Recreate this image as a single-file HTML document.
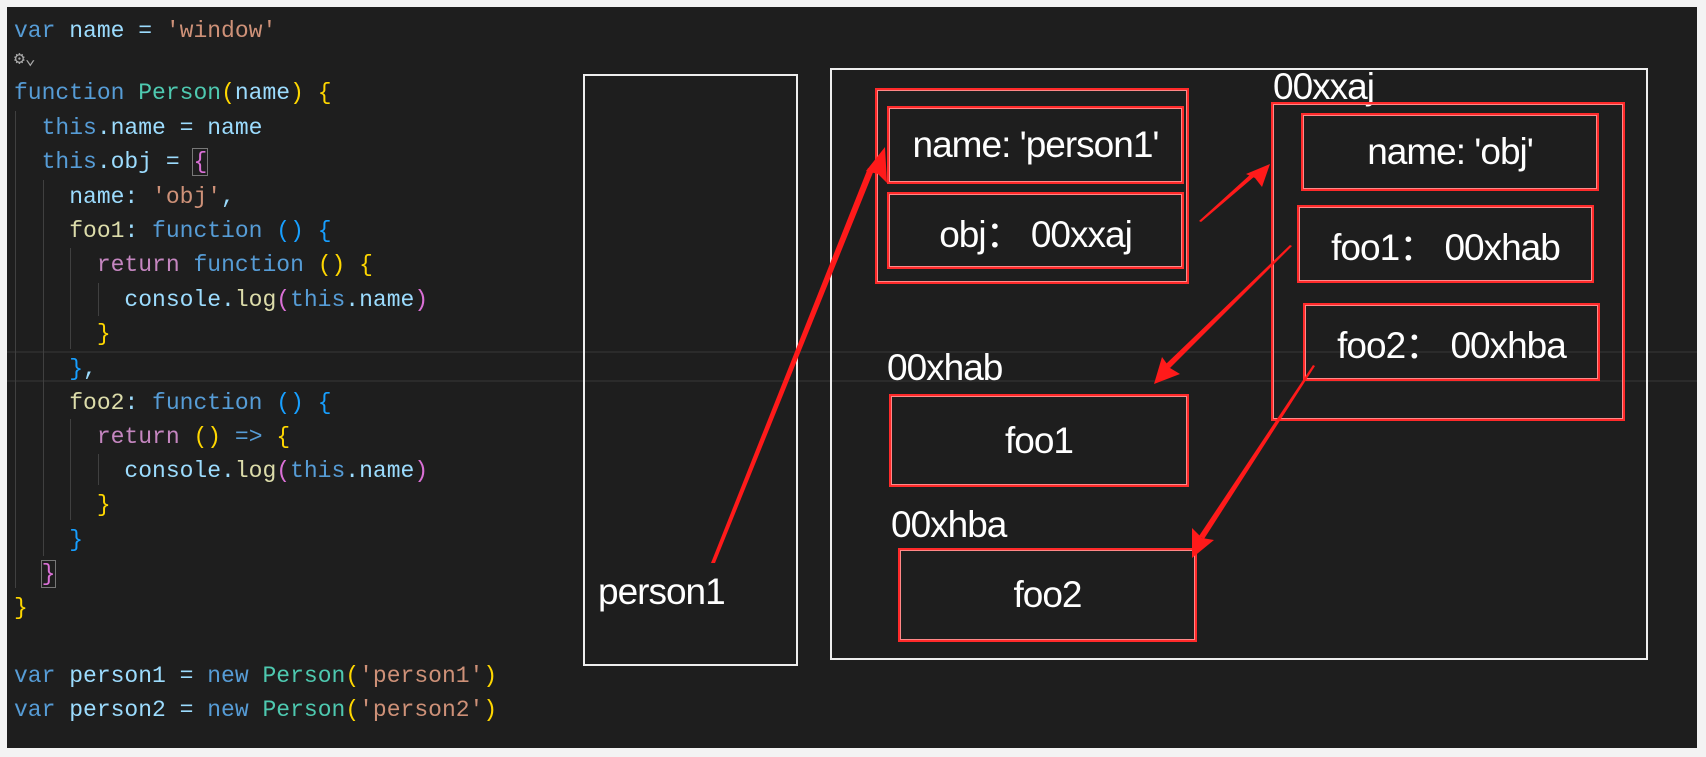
<!DOCTYPE html>
<html><head><meta charset="utf-8"><style>
body{margin:0;width:1706px;height:757px;background:#f3f3f3;position:relative;overflow:hidden}
#bg{position:absolute;left:7px;top:7px;width:1690px;height:741px;background:#1e1e1e}
.l{position:absolute;left:14px;font:23px/1 "Liberation Mono",monospace;color:#9cdcfe;white-space:pre}
.k{color:#569cd6}.s{color:#ce9178}.t{color:#4ec9b0}.y{color:#ffd700}.p{color:#da70d6}.b{color:#179fff}.r{color:#c586c0}.f{color:#dcdcaa}
.g{position:absolute;width:1px;background:#404040}
.w{position:absolute;border:2px solid #eee;box-sizing:border-box}
.rb{position:absolute;border:2px solid #ff2a2a;box-shadow:inset 0 0 0 1px #f88;box-sizing:border-box;display:flex;align-items:center;justify-content:center;color:#fff;font:37px "Liberation Sans",sans-serif;white-space:nowrap;letter-spacing:-1px}
.lab{position:absolute;color:#fff;font:37px/1 "Liberation Sans",sans-serif;letter-spacing:-1px}
</style></head><body>
<div id="bg"></div>
<div style="position:absolute;left:7px;top:351px;width:1690px;height:31px;border-top:2px solid #2b2b2b;border-bottom:2px solid #2b2b2b;box-sizing:border-box"></div>
<div class="g" style="left:15px;top:111px;height:477px"></div>
<div class="g" style="left:43px;top:180px;height:376px"></div>
<div class="g" style="left:70px;top:248px;height:101px"></div>
<div class="g" style="left:70px;top:419px;height:101px"></div>
<div class="g" style="left:98px;top:283px;height:33px"></div>
<div class="g" style="left:98px;top:454px;height:31px"></div>
<div class="l" style="top:20px"><span class="k">var</span> name = <span class="s">'window'</span></div>
<div class="l" style="top:51px;color:#aaa;font-size:18px">⚙⌄</div>
<div class="l" style="top:82px"><span class="k">function</span> <span class="t">Person</span><span class="y">(</span>name<span class="y">)</span> <span class="y">{</span></div>
<div class="l" style="top:117px">  <span class="k">this</span>.name = name</div>
<div class="l" style="top:151px">  <span class="k">this</span>.obj = <span class="p" style="outline:1px solid #777">{</span></div>
<div class="l" style="top:186px">    name: <span class="s">'obj'</span>,</div>
<div class="l" style="top:220px">    <span class="f">foo1</span>: <span class="k">function</span> <span class="b">()</span> <span class="b">{</span></div>
<div class="l" style="top:254px">      <span class="r">return</span> <span class="k">function</span> <span class="y">()</span> <span class="y">{</span></div>
<div class="l" style="top:289px">        console.<span class="f">log</span><span class="p">(</span><span class="k">this</span>.name<span class="p">)</span></div>
<div class="l" style="top:323px">      <span class="y">}</span></div>
<div class="l" style="top:358px">    <span class="b">}</span>,</div>
<div class="l" style="top:392px">    <span class="f">foo2</span>: <span class="k">function</span> <span class="b">()</span> <span class="b">{</span></div>
<div class="l" style="top:426px">      <span class="r">return</span> <span class="y">()</span> <span class="k">=&gt;</span> <span class="y">{</span></div>
<div class="l" style="top:460px">        console.<span class="f">log</span><span class="p">(</span><span class="k">this</span>.name<span class="p">)</span></div>
<div class="l" style="top:494px">      <span class="y">}</span></div>
<div class="l" style="top:529px">    <span class="b">}</span></div>
<div class="l" style="top:563px">  <span class="p" style="outline:1px solid #777">}</span></div>
<div class="l" style="top:597px"><span class="y">}</span></div>
<div class="l" style="top:665px"><span class="k">var</span> person1 = <span class="k">new</span> <span class="t">Person</span><span class="y">(</span><span class="s">'person1'</span><span class="y">)</span></div>
<div class="l" style="top:699px"><span class="k">var</span> person2 = <span class="k">new</span> <span class="t">Person</span><span class="y">(</span><span class="s">'person2'</span><span class="y">)</span></div>

<div class="w" style="left:583px;top:74px;width:215px;height:592px"></div>
<div class="w" style="left:830px;top:68px;width:818px;height:592px"></div>
<div class="rb" style="left:875px;top:88px;width:314px;height:196px"></div>
<div class="rb" style="left:887px;top:106px;width:297px;height:78px">name: 'person1'</div>
<div class="rb" style="left:887px;top:192px;width:297px;height:77px">obj：&nbsp;00xxaj</div>
<div class="lab" style="left:1273px;top:68px">00xxaj</div>
<div class="rb" style="left:1271px;top:102px;width:354px;height:319px"></div>
<div class="rb" style="left:1301px;top:113px;width:298px;height:78px">name: 'obj'</div>
<div class="rb" style="left:1297px;top:205px;width:297px;height:78px">foo1：&nbsp;00xhab</div>
<div class="rb" style="left:1303px;top:303px;width:297px;height:78px">foo2：&nbsp;00xhba</div>
<div class="lab" style="left:887px;top:349px">00xhab</div>
<div class="rb" style="left:889px;top:394px;width:300px;height:93px">foo1</div>
<div class="lab" style="left:891px;top:506px">00xhba</div>
<div class="rb" style="left:898px;top:548px;width:299px;height:94px">foo2</div>
<div class="lab" style="left:598px;top:573px">person1</div>

<svg width="1706" height="757" style="position:absolute;left:0;top:0">
<g fill="#ff1a1a">
<polygon points="711,563 715,563 874,170 868,168"/>
<polygon points="885,147 887,183 878,174 866,171"/>
<polygon points="1199,221 1201,222 1255,176 1252,173"/>
<polygon points="1270,164 1262,187 1255,178 1246,174"/>
<polygon points="1290,245 1292,246 1170,368 1166,364"/>
<polygon points="1154,384 1162,357 1170,368 1180,374"/>
<polygon points="1313,365 1315,366 1204,539 1199,536"/>
<polygon points="1192,558 1192,528 1202,538 1214,540"/>
</g></svg>
</body></html>
